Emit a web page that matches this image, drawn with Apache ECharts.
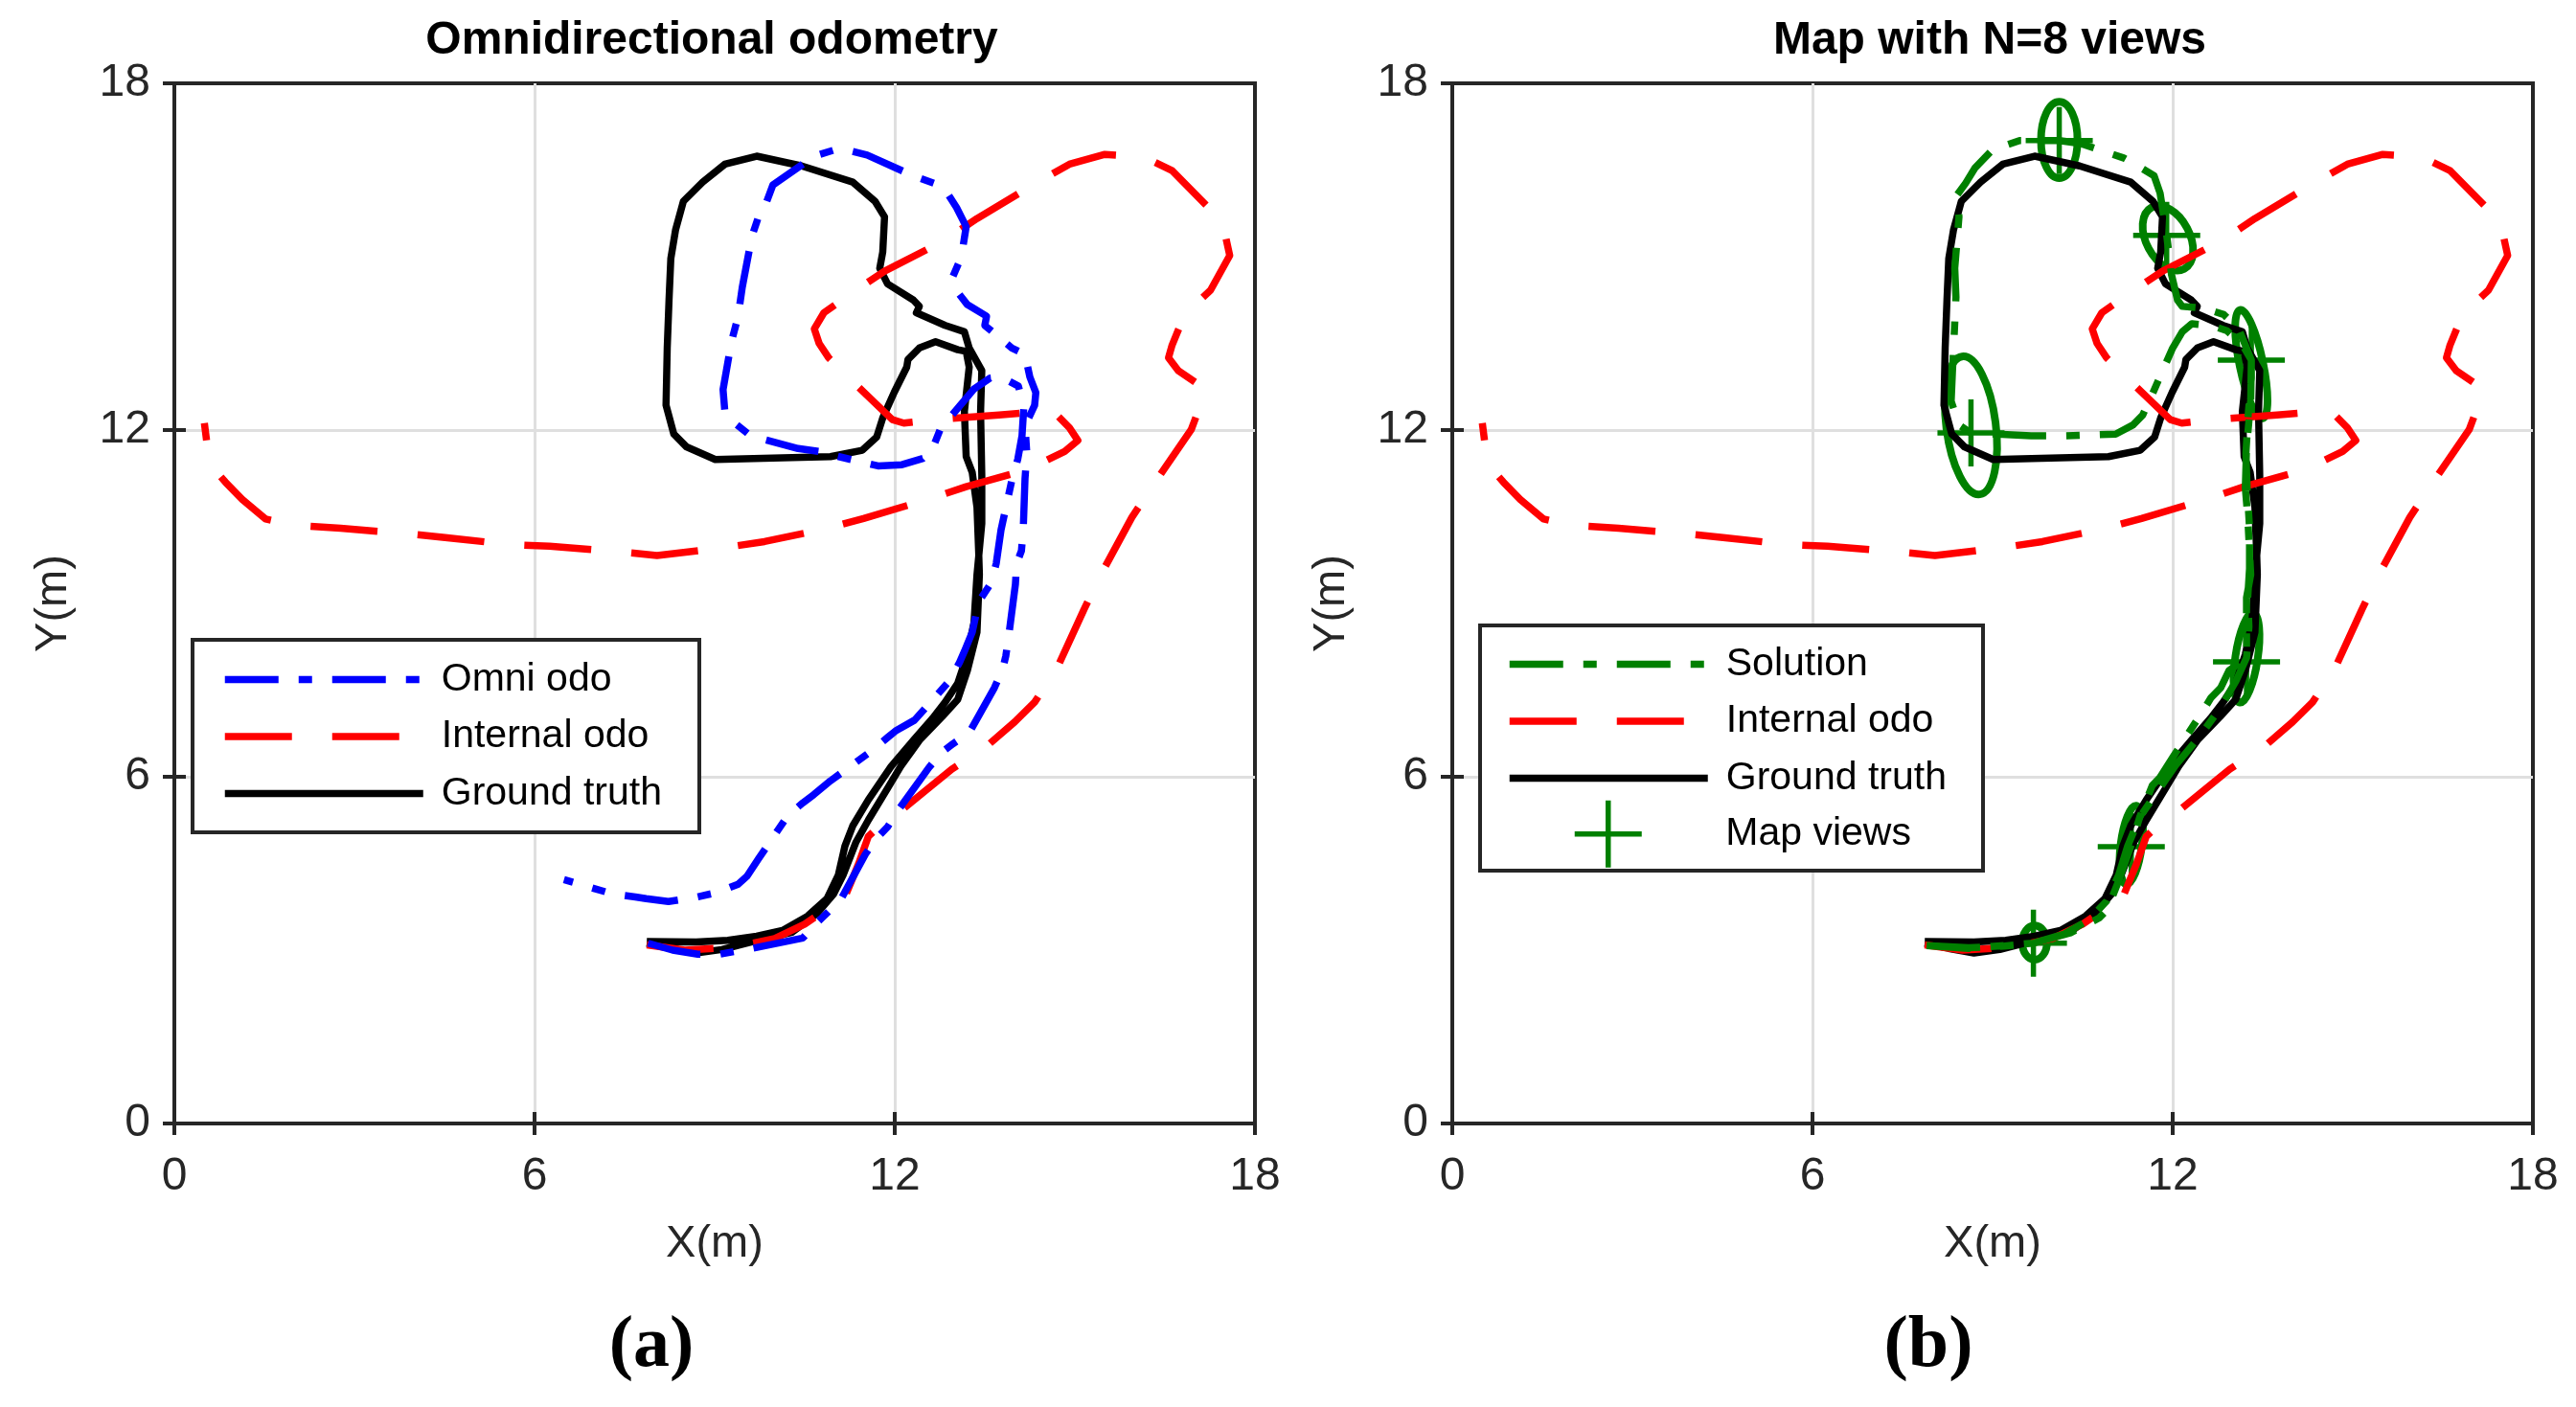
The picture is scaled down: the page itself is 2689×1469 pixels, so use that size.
<!DOCTYPE html>
<html><head><meta charset="utf-8">
<script src="https://cdn.jsdelivr.net/npm/echarts@6/dist/echarts.min.js"></script>
<style>html,body{margin:0;padding:0;background:#fff}#c{width:2689px;height:1469px}</style>
</head><body><div id="c"></div>
<script>
// ---------- data ----------
const axisTicks = [0, 6, 12, 18];
const panelTitles = ['Omnidirectional odometry', 'Map with N=8 views'];
const panelLabels = ['(a)', '(b)'];
const axisNames = ['X(m)', 'Y(m)'];
const legendLeft = ['Omni odo', 'Internal odo', 'Ground truth'];
const legendRight = ['Solution', 'Internal odo', 'Ground truth'];
const mapViewsName = 'Map views';

const groundTruth = [
 [7.87,3.15],[8.69,3.14],[9.22,3.17],[9.7,3.24],[10.13,3.34],[10.55,3.59],[10.87,3.89],[11.06,4.30],[11.17,4.8],[11.30,5.15],
 [11.56,5.60],[11.94,6.18],[12.31,6.63],[12.63,7.01],[12.84,7.29],[13.05,7.62],[13.21,8.12],[13.32,8.67],[13.37,9.50],[13.45,10.38],
 [13.45,11.21],[13.43,12.32],[13.45,13.03],[13.24,13.42],[13.16,13.70],[12.84,13.81],[12.36,14.03],[12.41,14.14],[12.31,14.25],[11.88,14.53],
 [11.75,14.80],[11.80,15.08],[11.83,15.69],[11.67,15.96],[11.30,16.29],[10.45,16.57],[9.70,16.74],[9.17,16.60],[8.80,16.29],[8.48,15.96],
 [8.35,15.47],[8.27,14.97],[8.24,14.25],[8.21,13.42],[8.19,12.43],[8.32,11.93],[8.53,11.71],[9.01,11.49],[9.81,11.51],[10.93,11.54],
 [11.46,11.65],[11.70,11.88],[11.80,12.21],[11.99,12.65],[12.20,13.09],[12.22,13.22],[12.41,13.42],[12.68,13.53],[13.05,13.39],[13.19,13.36],
 [13.24,13.09],[13.16,12.32],[13.19,11.54],[13.29,11.27],[13.37,10.66],[13.40,9.83],[13.41,9.50],[13.37,8.50],[13.21,7.84],[13.05,7.34],
 [12.79,7.04],[12.41,6.63],[12.10,6.18],[11.88,5.80],[11.56,5.25],[11.35,4.86],[11.14,4.30],[10.98,3.97],[10.71,3.64],[10.29,3.31],
 [9.65,3.15],[9.12,3.01],[8.69,2.95],[8.27,3.03],[7.87,3.12]
];

const internalOdo = [
 [7.87,3.09],[8.5,3.0],[9.3,3.05],[10.0,3.2],[10.5,3.45],[10.85,3.7],[11.19,3.97],[11.4,4.5],[11.56,4.97],[11.8,5.2],
 [12.10,5.41],[12.5,5.75],[12.95,6.13],[13.51,6.51],[14.0,6.95],[14.33,7.29],[14.70,7.87],[15.15,8.89],[15.45,9.53],[15.95,10.49],
 [16.32,11.07],[16.94,12.01],[17.15,12.6],[17.10,12.76],[16.72,13.03],[16.56,13.25],[16.62,13.47],[16.75,13.8],[16.94,14.11],[17.26,14.42],
 [17.58,15.02],[17.5,15.4],[17.36,15.71],[16.62,16.49],[16.3,16.65],[15.95,16.74],[15.50,16.77],[14.91,16.60],[14.30,16.24],[13.37,15.66],
 [12.81,15.27],[11.83,14.75],[11.27,14.36],[10.82,14.03],[10.66,13.75],[10.74,13.50],[10.9,13.25],[11.16,12.98],[11.96,12.18],[12.15,12.12],
 [12.65,12.18],[13.74,12.26],[14.43,12.32],[14.70,12.26],[14.91,12.04],[15.05,11.82],[14.83,11.63],[14.22,11.32],[13.19,11.02],[12.55,10.80],
 [11.48,10.47],[10.80,10.28],[9.83,10.07],[9.06,9.95],[8.04,9.83],[7.36,9.90],[6.25,9.99],[5.58,10.02],[4.51,10.14],[3.84,10.21],
 [2.77,10.30],[2.00,10.35],[1.52,10.46],[1.13,10.80],[0.85,11.1],[0.64,11.35],[0.55,11.71],[0.50,12.12]
];

const omniOdo = [
 [7.89,3.12],[8.3,3.0],[8.72,2.93],[9.09,2.93],[9.62,3.03],[10.47,3.21],[10.71,3.48],[10.87,3.64],[11.11,3.89],[11.51,4.66],
 [11.70,4.94],[11.88,5.13],[12.07,5.44],[12.57,6.16],[12.79,6.43],[12.97,6.57],[13.24,6.76],[13.66,7.54],[13.80,7.87],[13.85,8.09],
 [13.90,8.45],[14.01,9.33],[14.03,9.69],[14.11,9.91],[14.14,10.27],[14.17,11.16],[14.2,11.6],[14.17,12.07],[14.33,12.43],[14.35,12.65],
 [14.25,12.92],[14.17,13.31],[13.95,13.42],[13.72,13.62],[13.50,13.81],[13.53,13.97],[13.21,14.17],[13.0,14.45],[12.97,14.66],[13.11,15.0],
 [13.19,15.52],[13.03,15.85],[12.84,16.16],[12.65,16.27],[12.31,16.40],[11.54,16.76],[11.19,16.85],[11.0,16.85],[10.66,16.74],[9.97,16.24],
 [9.84,15.88],[9.73,15.69],[9.62,15.35],[9.46,14.47],[9.41,14.11],[9.38,13.92],[9.28,13.53],[9.14,12.70],[9.17,12.32],[9.30,12.15],
 [9.60,11.90],[10.39,11.68],[10.74,11.63],[10.95,11.57],[11.27,11.49],[11.72,11.38],[12.12,11.40],[12.47,11.51],[12.63,11.68],[12.76,12.02],
 [13.32,12.71],[13.59,12.90],[13.77,12.92],[14.06,12.76],[14.15,12.4],[14.12,11.9],[14.05,11.5],[13.95,11.13],[13.77,10.27],[13.69,9.69],
 [13.61,9.36],[13.40,9.03],[13.29,8.50],[13.16,8.17],[13.08,7.98],[12.92,7.67],[12.33,6.98],[12.01,6.79],[11.88,6.68],[11.59,6.43],
 [10.93,5.93],[10.65,5.69],[10.47,5.55],[10.22,5.33],[9.73,4.58],[9.54,4.28],[9.39,4.14],[9.05,4.00],[8.71,3.92],[8.23,3.84],
 [7.86,3.89],[7.68,3.92],[7.31,3.97],[6.49,4.22]
];

const solution = [
 [7.9,3.08],[8.6,3.04],[9.2,3.07],[9.68,3.12],[10.2,3.28],[10.6,3.52],[10.9,3.85],[11.1,4.3],[11.25,4.8],[11.45,5.3],
 [11.75,5.75],[12.05,6.2],[12.45,6.7],[12.8,7.2],[13.05,7.65],[13.23,8.06],[13.27,8.6],[13.25,9.1],[13.28,9.6],[13.28,10.3],
 [13.24,11.0],[13.22,11.6],[13.26,12.3],[13.31,12.9],[13.31,13.21],[13.1,13.75],[12.85,14.0],[12.51,14.11],[12.16,14.14],[12.08,14.25],
 [11.98,14.69],[11.90,15.37],[11.79,16.1],[11.69,16.40],[11.47,16.54],[11.18,16.71],[10.46,16.96],[10.11,17.01],[9.45,17.01],[9.0,16.85],
 [8.71,16.54],[8.55,16.27],[8.41,16.07],[8.44,15.69],[8.37,14.80],[8.39,14.3],[8.37,13.86],[8.33,12.98],[8.31,12.5],[8.44,12.09],
 [8.64,11.95],[9.64,11.90],[10.2,11.90],[11.05,11.93],[11.34,12.09],[11.50,12.26],[11.66,12.62],[12.0,13.42],[12.16,13.70],[12.32,13.84],
 [12.67,13.80],[12.9,13.72],[13.15,13.5],[13.31,13.21],[13.30,12.5],[13.23,11.7],[13.21,11.0],[13.25,10.5],[13.30,9.5],[13.23,9.1],
 [13.23,8.06],[12.94,7.84],[12.80,7.54],[12.64,7.37],[12.46,7.07],[12.01,6.35],[11.79,5.99],[11.66,5.85],[11.45,5.3],[11.31,4.82],
 [11.1,4.2],[10.91,3.70],[10.78,3.56],[10.3,3.3],[9.68,3.12],[8.6,3.03],[7.9,3.08]
];

const mapViews = [
 [10.11,17.01],[11.90,15.37],[13.31,13.21],[8.64,11.95],[13.23,7.99],[11.31,4.79],[9.68,3.12]
];

// [centreX, centreY, semi-axis along angle, other semi-axis, angle in degrees]
const viewEllipses = [
 [10.11,17.02,0.65,0.31,90],
 [11.92,15.32,0.59,0.37,-62],
 [13.31,13.14,0.94,0.20,101.8],
 [8.64,12.08,1.18,0.42,97.3],
 [13.23,8.06,0.77,0.19,81.5],
 [11.31,4.82,0.67,0.18,82.7],
 [9.70,3.13,0.29,0.21,90]
];

// ---------- styles ----------
const SANS = "'Liberation Sans', Arial, Helvetica, sans-serif";
const AX = '#262626';
const BLUE = '#0000ff', RED = '#ff0000', BLACK = '#000000', GREEN = '#008000';
const LW = 7.5;
const ELW = 8;
const PLW = 5.5;
const DASH = [70, 42];
const DASHDOT = [56, 21, 14, 21];
const gridLefts = [182, 1516];
const GRID_TOP = 87, GRID_W = 1128, GRID_H = 1086;

const grids = gridLefts.map(l => ({left: l, top: GRID_TOP, width: GRID_W, height: GRID_H,
  show: true, borderColor: AX, borderWidth: 4, backgroundColor: 'transparent'}));

const tick = {show: true, inside: true, length: 12, lineStyle: {color: AX, width: 4}};
const base = g => ({type: 'value', gridIndex: g, min: axisTicks[0], max: axisTicks[axisTicks.length - 1],
  interval: axisTicks[1] - axisTicks[0], axisLine: {show: false}, axisTick: tick});
const split = {show: true, showMinLine: false, showMaxLine: false, lineStyle: {color: '#dfdfdf', width: 3}};

const xAxes = [], yAxes = [];
[0, 1].forEach(g => {
  xAxes.push(Object.assign(base(g), {position: 'bottom', splitLine: split,
    axisLabel: {margin: 32, fontSize: 48, color: AX, fontFamily: SANS},
    name: axisNames[0], nameLocation: 'middle', nameGap: 103,
    nameTextStyle: {fontSize: 47, color: AX, fontFamily: SANS}}));
  xAxes.push(Object.assign(base(g), {position: 'top', splitLine: {show: false}, axisLabel: {show: false}}));
  yAxes.push(Object.assign(base(g), {position: 'left', splitLine: split,
    axisLabel: {margin: 25, fontSize: 48, color: AX, fontFamily: SANS},
    name: axisNames[1], nameLocation: 'middle', nameGap: 102,
    nameTextStyle: {fontSize: 47, color: AX, fontFamily: SANS}}));
  yAxes.push(Object.assign(base(g), {position: 'right', splitLine: {show: false}, axisLabel: {show: false}}));
});

function lineSeries(name, data, color, dash, g) {
  return {type: 'line', name, data, xAxisIndex: 2 * g, yAxisIndex: 2 * g,
    showSymbol: false, symbol: 'none', smooth: false, animation: false, silent: true,
    itemStyle: {color}, lineStyle: {color, width: LW, type: dash, cap: 'butt', join: 'round'}};
}

const series = [
  lineSeries('Ground truth', groundTruth, BLACK, 'solid', 0),
  lineSeries('Internal odo', internalOdo, RED, DASH, 0),
  lineSeries('Omni odo', omniOdo, BLUE, DASHDOT, 0),
  lineSeries('Ground truth', groundTruth, BLACK, 'solid', 1),
  lineSeries('Internal odo', internalOdo, RED, DASH, 1),
  lineSeries('Solution', solution, GREEN, DASHDOT, 1),
  {type: 'scatter', name: mapViewsName, data: mapViews, xAxisIndex: 2, yAxisIndex: 2,
    symbol: 'path://M0,1L2,1M1,0L1,2', symbolSize: 70, symbolKeepAspect: true, animation: false, silent: true,
    itemStyle: {color: 'transparent', borderColor: GREEN, borderWidth: PLW, opacity: 1}},
  {type: 'custom', name: 'view ellipses', data: viewEllipses, xAxisIndex: 2, yAxisIndex: 2,
    animation: false, silent: true,
    itemStyle: {color: 'none', borderColor: GREEN, borderWidth: ELW},
    renderItem: function (params, api) {
      const c = api.coord([api.value(0), api.value(1)]);
      const s = api.size([1, 1]);
      const sc = (s[0] + s[1]) / 2;
      return {type: 'ellipse', x: c[0], y: c[1], rotation: api.value(4) * Math.PI / 180,
        shape: {cx: 0, cy: 0, rx: api.value(2) * sc, ry: api.value(3) * sc},
        style: {fill: 'none', stroke: GREEN, lineWidth: ELW}};
    }}
];

const legendText = pad => ({fontSize: 41, color: '#000', fontFamily: SANS, lineHeight: 40, padding: [0, 0, 0, pad]});
const lineLegend = (data, left, top, pad) => ({data, orient: 'vertical', left, top, itemWidth: 207, itemHeight: 14,
  itemGap: 18.5, padding: 0, selectedMode: false, textStyle: legendText(pad), itemStyle: {opacity: 0},
  lineStyle: {width: LW, type: 'inherit', color: 'inherit', cap: 'butt'}, z: 20});

const option = {
  backgroundColor: '#fff',
  animation: false,
  title: [
    {text: panelTitles[0], left: 743, top: 43, textAlign: 'center', textVerticalAlign: 'middle', padding: 0,
      textStyle: {fontSize: 48, fontWeight: 'bold', color: '#000', fontFamily: SANS}},
    {text: panelTitles[1], left: 2077, top: 43, textAlign: 'center', textVerticalAlign: 'middle', padding: 0,
      textStyle: {fontSize: 48, fontWeight: 'bold', color: '#000', fontFamily: SANS}},
    {text: panelLabels[0], left: 680, top: 1406, textAlign: 'center', textVerticalAlign: 'middle', padding: 0,
      textStyle: {fontSize: 76, fontWeight: 'bold', color: '#000', fontFamily: "'Liberation Serif', 'Times New Roman', serif"}},
    {text: panelLabels[1], left: 2013, top: 1406, textAlign: 'center', textVerticalAlign: 'middle', padding: 0,
      textStyle: {fontSize: 76, fontWeight: 'bold', color: '#000', fontFamily: "'Liberation Serif', 'Times New Roman', serif"}}
  ],
  grid: grids,
  xAxis: xAxes,
  yAxis: yAxes,
  legend: [
    lineLegend(legendLeft, 231, 689, 14),
    lineLegend(legendRight, 1572, 673, 14),
    {data: [mapViewsName], orient: 'vertical', left: 1641, top: 833, itemWidth: 207, itemHeight: 70, padding: 0,
      selectedMode: false, textStyle: legendText(14), symbolKeepAspect: true,
      itemStyle: {color: 'transparent', borderColor: GREEN, borderWidth: PLW, opacity: 1}, z: 20}
  ],
  graphic: [
    {type: 'rect', z: 10, silent: true, shape: {x: 201, y: 668, width: 529, height: 201},
      style: {fill: '#fff', stroke: AX, lineWidth: 4}},
    {type: 'rect', z: 10, silent: true, shape: {x: 1545, y: 653, width: 525, height: 256},
      style: {fill: '#fff', stroke: AX, lineWidth: 4}}
  ],
  series
};

const chart = echarts.init(document.getElementById('c'), null, {renderer: 'canvas', width: 2689, height: 1469});
chart.setOption(option);
</script></body></html>
